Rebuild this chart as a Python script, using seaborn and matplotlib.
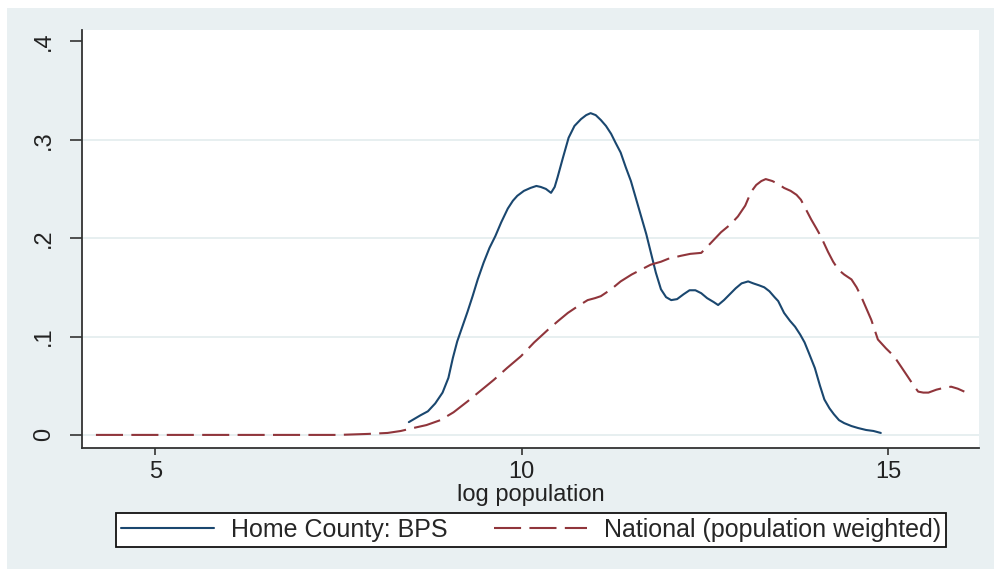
import matplotlib
matplotlib.use("Agg")
import matplotlib.pyplot as plt
from matplotlib.patches import Rectangle
import pandas as pd
import seaborn as sns

# kernel density of log population
home_x = [8.46, 8.62, 8.72, 8.82, 8.92, 9.00, 9.06, 9.12, 9.19, 9.26, 9.33, 9.40,
          9.48, 9.56, 9.64, 9.72, 9.81, 9.88, 9.94, 10.03, 10.12, 10.20, 10.26,
          10.33, 10.40, 10.45, 10.49, 10.56, 10.64, 10.72, 10.81, 10.88, 10.94,
          11.01, 11.08, 11.15, 11.22, 11.28, 11.35, 11.42, 11.49, 11.56, 11.63,
          11.70, 11.76, 11.83, 11.90, 11.97, 12.04, 12.12, 12.21, 12.29, 12.37,
          12.45, 12.53, 12.62, 12.68, 12.76, 12.84, 12.92, 13.00, 13.09, 13.16,
          13.24, 13.31, 13.38, 13.45, 13.50, 13.58, 13.66, 13.73, 13.80, 13.86,
          13.92, 14.00, 14.07, 14.13, 14.20, 14.26, 14.33, 14.40, 14.50, 14.59,
          14.70, 14.80, 14.90]
home_y = [0.013, 0.020, 0.024, 0.032, 0.043, 0.058, 0.078, 0.095, 0.110, 0.125,
          0.141, 0.158, 0.175, 0.190, 0.202, 0.216, 0.230, 0.238, 0.243, 0.248,
          0.251, 0.253, 0.252, 0.250, 0.246, 0.252, 0.262, 0.281, 0.302, 0.314,
          0.321, 0.325, 0.327, 0.325, 0.320, 0.314, 0.306, 0.297, 0.287, 0.272,
          0.258, 0.240, 0.222, 0.204, 0.186, 0.165, 0.148, 0.140, 0.137, 0.138,
          0.143, 0.147, 0.147, 0.144, 0.139, 0.135, 0.132, 0.137, 0.143, 0.149,
          0.154, 0.156, 0.154, 0.152, 0.150, 0.146, 0.140, 0.136, 0.124, 0.116,
          0.110, 0.102, 0.094, 0.083, 0.068, 0.050, 0.036, 0.027, 0.021, 0.015,
          0.012, 0.009, 0.007, 0.005, 0.004, 0.002]

national_x = [4.19, 5.0, 6.0, 7.0, 7.5, 7.9, 8.17, 8.35, 8.52, 8.70, 8.89, 9.07,
              9.26, 9.44, 9.62, 9.80, 9.99, 10.17, 10.36, 10.50, 10.63, 10.77,
              10.90, 11.00, 11.08, 11.22, 11.35, 11.50, 11.63, 11.76, 11.90, 12.00,
              12.17, 12.30, 12.45, 12.58, 12.72, 12.85, 12.95, 13.05, 13.13, 13.20,
              13.27, 13.33, 13.42, 13.50, 13.58, 13.67, 13.75, 13.81, 13.88, 13.95,
              14.02, 14.08, 14.18, 14.25, 14.32, 14.40, 14.50, 14.57, 14.63, 14.70,
              14.77, 14.86, 14.97, 15.08, 15.18, 15.27, 15.35, 15.41, 15.48, 15.55,
              15.66, 15.77, 15.86, 15.95, 16.04]
national_y = [0.0, 0.0, 0.0, 0.0, 0.0, 0.001, 0.002, 0.004, 0.007, 0.010, 0.015,
              0.023, 0.034, 0.045, 0.056, 0.068, 0.080, 0.094, 0.107, 0.116, 0.124,
              0.131, 0.137, 0.139, 0.141, 0.148, 0.156, 0.163, 0.168, 0.173, 0.176,
              0.179, 0.182, 0.184, 0.185, 0.195, 0.206, 0.214, 0.222, 0.233, 0.247,
              0.254, 0.258, 0.260, 0.258, 0.255, 0.251, 0.248, 0.244, 0.239, 0.229,
              0.219, 0.210, 0.202, 0.186, 0.176, 0.168, 0.163, 0.158, 0.150, 0.141,
              0.129, 0.117, 0.097, 0.088, 0.080, 0.069, 0.059, 0.050, 0.044, 0.043,
              0.043, 0.046, 0.048, 0.049, 0.047, 0.044]

series_labels = ["Home County: BPS", "National (population weighted)"]
x_ticks = [5, 10, 15]
y_ticks = [0, 0.1, 0.2, 0.3, 0.4]
y_tick_labels = ["0", ".1", ".2", ".3", ".4"]

navy = "#1a476f"
maroon = "#90353b"
bluish = "#e9f0f2"
fs = 17

sns.set_theme(style="white")
plt.rcParams["font.family"] = ["Liberation Sans", "DejaVu Sans"]
plt.rcParams["font.size"] = fs

W, H = 994, 569
fig = plt.figure(figsize=(W / 100, H / 100), dpi=100)
fig.patch.set_facecolor("white")
# Stata-like light bluish graph region, with a thin white margin top/left
fig.patches.append(Rectangle((7 / W, 0), 1 - 7 / W, 1 - 8 / H,
                             transform=fig.transFigure, facecolor=bluish,
                             edgecolor="none", zorder=-5))

ax = fig.add_axes([82 / W, 1 - 448 / H, (979 - 82) / W, (448 - 30) / H])
ax.set_facecolor("white")
ax.set_zorder(2)

home = pd.DataFrame({"x": home_x, "y": home_y})
national = pd.DataFrame({"x": national_x, "y": national_y})

sns.lineplot(data=home, x="x", y="y", ax=ax, color=navy, lw=1.5,
             label=series_labels[0], sort=False)
sns.lineplot(data=national, x="x", y="y", ax=ax, color=maroon, lw=1.5,
             label=series_labels[1], sort=False)
ax.lines[1].set_dashes([13, 4])

ax.set_xlim(4.0, 16.24)
ax.set_ylim(-0.0133, 0.4115)
ax.set_xticks(x_ticks)
ax.set_yticks(y_ticks)
ax.set_yticklabels(y_tick_labels, rotation=90, va="center")

for v in y_ticks[:-1]:
    ax.axhline(v, color="#e3ecee", lw=1.2, zorder=0)

for side in ["top", "right"]:
    ax.spines[side].set_visible(False)
for side in ["left", "bottom"]:
    ax.spines[side].set_color("#333333")
    ax.spines[side].set_linewidth(1.3)

ax.tick_params(axis="y", left=True, length=8.5, width=1.2, color="#333333",
               pad=11, labelsize=fs, labelcolor="#222222")
ax.tick_params(axis="x", bottom=True, length=5, width=1.2, color="#333333",
               pad=4, labelsize=fs, labelcolor="#222222")

ax.set_xlabel("log population", fontsize=fs, labelpad=1, color="#222222")
ax.set_ylabel("")

ax.legend_.remove()
handles = ax.lines[:2]
leg = fig.legend(handles, series_labels, loc="center", ncol=2,
                 bbox_to_anchor=(531 / W, 1 - 530 / H), frameon=True,
                 fancybox=False, edgecolor="#111111", facecolor="white",
                 framealpha=1, handlelength=3.72, handletextpad=0.68,
                 columnspacing=1.84, borderpad=0.2, borderaxespad=0,
                 prop={"size": 18})
leg.get_frame().set_linewidth(1.3)

fig.savefig("out.png", dpi=100)
